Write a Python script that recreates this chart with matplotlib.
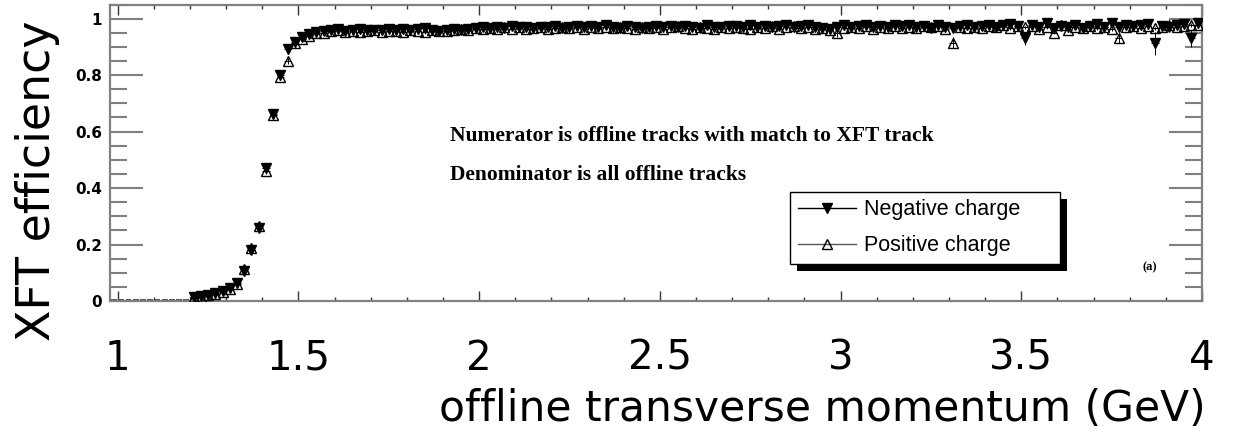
import numpy as np
import matplotlib.pyplot as plt
from matplotlib.lines import Line2D
from matplotlib.patches import Rectangle
from matplotlib.ticker import MultipleLocator, FuncFormatter

# 0.02 GeV bins from 0.98 to 4.00, centres
pt = np.round(np.arange(0.99, 4.0, 0.02), 2)

# 0.99 - 1.19 : no offline tracks matched
n_empty = 11

# turn-on region, 1.21 - 1.55
neg_turnon = [0.015, 0.018, 0.021, 0.027, 0.034, 0.046, 0.063, 0.108, 0.182,
              0.258, 0.470, 0.662, 0.802, 0.892, 0.918, 0.934, 0.946, 0.953]
pos_turnon = [0.014, 0.016, 0.020, 0.025, 0.032, 0.043, 0.060, 0.112, 0.186,
              0.265, 0.462, 0.658, 0.795, 0.850, 0.912, 0.928, 0.940, 0.948]

# plateau, 1.57 - 3.99
neg_plateau = [
    0.955, 0.958, 0.962, 0.957, 0.960, 0.963, 0.958, 0.961, 0.959, 0.962,
    0.960, 0.964, 0.958, 0.962, 0.966, 0.959, 0.957, 0.961, 0.963, 0.958,
    0.965, 0.968, 0.972, 0.966, 0.970, 0.967, 0.973, 0.969, 0.971, 0.968,
    0.972, 0.970, 0.975, 0.968, 0.971, 0.974, 0.969, 0.973, 0.970, 0.976,
    0.971, 0.968, 0.974, 0.970, 0.967, 0.972, 0.975, 0.969, 0.973, 0.970,
    0.974, 0.971, 0.968, 0.976, 0.972, 0.969, 0.975, 0.973, 0.970, 0.977,
    0.972, 0.975, 0.969, 0.974, 0.978, 0.971, 0.973, 0.976, 0.970, 0.968,
    0.965, 0.972, 0.976, 0.970, 0.974, 0.979, 0.972, 0.975, 0.969, 0.977,
    0.973, 0.978, 0.970, 0.975, 0.968, 0.976, 0.972, 0.966, 0.974, 0.978,
    0.971, 0.975, 0.979, 0.970, 0.976, 0.982, 0.973, 0.930, 0.977, 0.971,
    0.985, 0.968, 0.975, 0.972, 0.978, 0.966, 0.974, 0.980, 0.971, 0.983,
    0.970, 0.976, 0.973, 0.979, 0.982, 0.912, 0.975, 0.972, 0.978, 0.980,
    0.930, 0.985]
pos_plateau = [
    0.950, 0.955, 0.958, 0.954, 0.957, 0.952, 0.956, 0.959, 0.953, 0.957,
    0.955, 0.952, 0.958, 0.956, 0.953, 0.960, 0.957, 0.955, 0.959, 0.962,
    0.958, 0.966, 0.962, 0.968, 0.964, 0.970, 0.965, 0.969, 0.963, 0.967,
    0.970, 0.965, 0.968, 0.972, 0.966, 0.969, 0.963, 0.971, 0.967, 0.970,
    0.966, 0.972, 0.968, 0.964, 0.970, 0.967, 0.971, 0.965, 0.969, 0.973,
    0.968, 0.965, 0.971, 0.967, 0.963, 0.970, 0.966, 0.972, 0.968, 0.965,
    0.971, 0.967, 0.973, 0.964, 0.969, 0.975, 0.966, 0.970, 0.962, 0.968,
    0.958, 0.948, 0.966, 0.971, 0.967, 0.973, 0.965, 0.970, 0.968, 0.974,
    0.966, 0.971, 0.967, 0.973, 0.969, 0.975, 0.964, 0.915, 0.970, 0.966,
    0.972, 0.968, 0.974, 0.970, 0.977, 0.967, 0.973, 0.969, 0.975, 0.964,
    0.970, 0.950, 0.976, 0.958, 0.972, 0.968, 0.974, 0.966, 0.971, 0.962,
    0.932, 0.970, 0.975, 0.968, 0.973, 0.966, 0.972, 0.977, 0.969, 0.974,
    0.978, 0.976]

err_turnon = 0.012
err_plateau = 0.006
dip_err_neg = {3.51: 0.022, 3.87: 0.040, 3.97: 0.030}
dip_err_pos = {2.99: 0.012, 3.31: 0.020, 3.77: 0.018}

eff_neg = np.array([0.0] * n_empty + neg_turnon + neg_plateau)
eff_pos = np.array([0.0] * n_empty + pos_turnon + pos_plateau)


def errors(dips):
    e = np.where(pt < 1.56, err_turnon, err_plateau)
    e[:n_empty] = 0
    for x, v in dips.items():
        e[np.isclose(pt, x)] = v
    return e


err_neg = errors(dip_err_neg)
err_pos = errors(dip_err_pos)

frame_grey = '#808080'

fig = plt.figure(figsize=(12.47, 4.33), dpi=100)
ax = fig.add_axes([0.0886, 0.3048, 0.8753, 0.6848])

empty = slice(0, n_empty)
filled = slice(n_empty, None)

# empty bins only show the bin-width bar on the zero line
ax.errorbar(pt[empty], eff_neg[empty] + 0.004, xerr=0.008, fmt='none',
            ecolor='#333333', elinewidth=1.2)
ax.errorbar(pt[filled], eff_neg[filled], yerr=err_neg[filled], xerr=0.01,
            fmt='v', ms=6.5, color='black', mfc='black', mec='black',
            elinewidth=0.7, capsize=0, zorder=3)
ax.errorbar(pt[filled], eff_pos[filled], yerr=err_pos[filled], xerr=0.01,
            fmt='^', ms=7, color='black', mfc='none', mec='black', mew=1.0,
            elinewidth=0.7, capsize=0, zorder=4)

ax.set_xlim(0.98, 4.0)
ax.set_ylim(0, 1.05)

# ROOT-style frame: long grey ticks on y, short ticks on x, all four sides
for sp in ax.spines.values():
    sp.set_color(frame_grey)
    sp.set_linewidth(1.6)
ax.xaxis.set_major_locator(MultipleLocator(0.5))
ax.xaxis.set_minor_locator(MultipleLocator(0.1))
ax.yaxis.set_major_locator(MultipleLocator(0.2))
ax.yaxis.set_minor_locator(MultipleLocator(0.05))
ax.tick_params(axis='y', which='both', direction='in', left=True, right=True,
               color=frame_grey, width=1.5)
ax.tick_params(axis='y', which='major', length=24, pad=6, labelsize=11)
ax.tick_params(axis='y', which='minor', length=12)
ax.tick_params(axis='x', which='both', direction='in', top=True, bottom=True,
               color='#333333', width=1.0)
ax.tick_params(axis='x', which='major', length=7, pad=27, labelsize=29)
ax.tick_params(axis='x', which='minor', length=3)

fmt = FuncFormatter(lambda v, _: f'{v:g}')
ax.xaxis.set_major_formatter(fmt)
ax.yaxis.set_major_formatter(fmt)
for lbl in ax.get_yticklabels():
    lbl.set_fontweight('bold')

ax.set_ylabel('XFT efficiency', fontsize=33)
ax.yaxis.set_label_coords(-0.046, 0.405)
ax.set_xlabel('offline transverse momentum (GeV)', fontsize=30.5, ha='right')
ax.xaxis.set_label_coords(1.003, -0.295)

serif = dict(family='Liberation Serif', fontweight='bold', color='black')
ax.text(1.92, 0.584, 'Numerator is offline tracks with match to XFT track',
        fontsize=15.5, va='center', **serif)
ax.text(1.92, 0.448, 'Denominator is all offline tracks',
        fontsize=15.5, va='center', **serif)
ax.text(3.835, 0.12, '(a)', fontsize=9, va='center', **serif)

handles = [
    Line2D([], [], color='black', lw=1.0, marker='v', ms=6.5, mfc='black'),
    Line2D([], [], color='#555555', lw=1.0, marker='^', ms=7, mfc='none',
           mec='black', mew=1.0),
]
leg = ax.legend(handles, ['Negative charge', 'Positive charge'],
                loc='lower left', bbox_to_anchor=(0.623, 0.126, 0.247, 0.25),
                mode='expand', borderaxespad=0, fancybox=False, framealpha=1,
                edgecolor='black', handlelength=2.7, handletextpad=0.35,
                borderpad=0.35, labelspacing=0.7,
                prop={'family': 'Liberation Sans', 'size': 15.5})
leg.get_frame().set_linewidth(1.0)

# solid drop shadow under the legend box
fig.canvas.draw()
bb = leg.get_window_extent().transformed(ax.transAxes.inverted())
dx, dy = 7 / 1091.5, 7 / 296.5
ax.add_patch(Rectangle((bb.x0 + dx, bb.y0 - dy), bb.width, bb.height,
                       transform=ax.transAxes, facecolor='black',
                       edgecolor='none', zorder=4.9, clip_on=False))

fig.savefig('out.png', dpi=100)
